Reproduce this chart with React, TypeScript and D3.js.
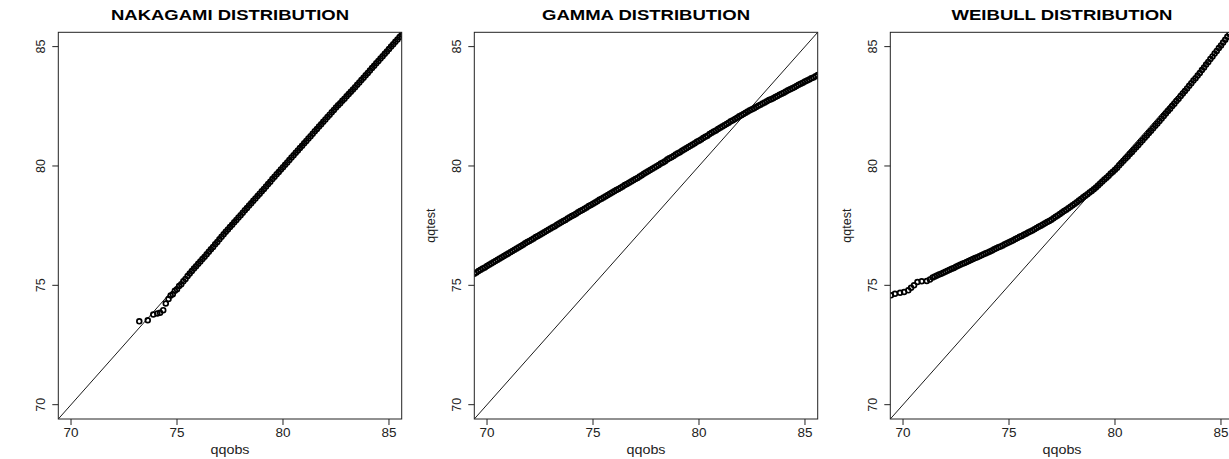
import React from "react";
import * as d3 from "d3";

// ---------- DATA ----------
const titles = ["NAKAGAMI DISTRIBUTION", "GAMMA DISTRIBUTION", "WEIBULL DISTRIBUTION"];
const titleWidths = [238, 208, 221];
const tickValues = [70, 75, 80, 85];
const xLabel = "qqobs";
const yLabel = "qqtest";

// Nakagami
const nakagamiObs = [
  73.22, 73.62, 73.88, 74.07, 74.2, 74.35, 74.47,
  74.6, 74.7, 74.8, 74.9, 75.0, 75.1, 75.2, 75.3, 75.4, 75.5, 75.6, 75.7, 75.8, 75.9,
  76.0, 76.1, 76.2, 76.3, 76.4, 76.5, 76.6, 76.7, 76.8, 76.9,
  77.0, 77.1, 77.2, 77.3, 77.4, 77.5, 77.6, 77.7, 77.8, 77.9,
  78.0, 78.1, 78.2, 78.3, 78.4, 78.5, 78.6, 78.7, 78.8, 78.9,
  79.0, 79.1, 79.2, 79.3, 79.4, 79.5, 79.6, 79.7, 79.8, 79.9,
  80.0, 80.1, 80.2, 80.3, 80.4, 80.5, 80.6, 80.7, 80.8, 80.9,
  81.0, 81.1, 81.2, 81.3, 81.4, 81.5, 81.6, 81.7, 81.8, 81.9,
  82.0, 82.1, 82.2, 82.3, 82.4, 82.5, 82.6, 82.7, 82.8, 82.9,
  83.0, 83.1, 83.2, 83.3, 83.4, 83.5, 83.6, 83.7, 83.8, 83.9,
  84.0, 84.1, 84.2, 84.3, 84.4, 84.5, 84.6, 84.7, 84.8, 84.9,
  85.0, 85.1, 85.2, 85.3, 85.4, 85.5, 85.6, 85.7,
];
const nakagamiTest = [
  73.49, 73.54, 73.78, 73.82, 73.85, 73.96, 74.24,
  74.43, 74.57, 74.63, 74.77, 74.84, 74.97, 75.05, 75.17, 75.27, 75.39, 75.5, 75.6, 75.7, 75.8,
  75.9, 76.0, 76.1, 76.2, 76.3, 76.41, 76.51, 76.61, 76.72, 76.82,
  76.93, 77.03, 77.14, 77.24, 77.34, 77.44, 77.54, 77.64, 77.74, 77.84,
  77.94, 78.04, 78.14, 78.24, 78.34, 78.44, 78.54, 78.64, 78.74, 78.84,
  78.94, 79.04, 79.14, 79.24, 79.34, 79.45, 79.55, 79.65, 79.75, 79.85,
  79.95, 80.05, 80.15, 80.25, 80.35, 80.45, 80.55, 80.65, 80.75, 80.85,
  80.95, 81.05, 81.15, 81.25, 81.35, 81.45, 81.55, 81.65, 81.75, 81.85,
  81.95, 82.05, 82.15, 82.25, 82.35, 82.45, 82.54, 82.63, 82.73, 82.82,
  82.92, 83.01, 83.11, 83.2, 83.3, 83.4, 83.5, 83.6, 83.7, 83.8,
  83.9, 84.0, 84.1, 84.2, 84.3, 84.4, 84.5, 84.6, 84.7, 84.8,
  84.9, 85.0, 85.1, 85.2, 85.3, 85.4, 85.5, 85.6,
];

// Gamma
const gammaObs = [
  69.4, 69.5, 69.6, 69.7, 69.8, 69.9,
  70.0, 70.1, 70.2, 70.3, 70.4, 70.5, 70.6, 70.7, 70.8, 70.9,
  71.0, 71.1, 71.2, 71.3, 71.4, 71.5, 71.6, 71.7, 71.8, 71.9,
  72.0, 72.1, 72.2, 72.3, 72.4, 72.5, 72.6, 72.7, 72.8, 72.9,
  73.0, 73.1, 73.2, 73.3, 73.4, 73.5, 73.6, 73.7, 73.8, 73.9,
  74.0, 74.1, 74.2, 74.3, 74.4, 74.5, 74.6, 74.7, 74.8, 74.9,
  75.0, 75.1, 75.2, 75.3, 75.4, 75.5, 75.6, 75.7, 75.8, 75.9,
  76.0, 76.1, 76.2, 76.3, 76.4, 76.5, 76.6, 76.7, 76.8, 76.9,
  77.0, 77.1, 77.2, 77.3, 77.4, 77.5, 77.6, 77.7, 77.8, 77.9,
  78.0, 78.1, 78.2, 78.3, 78.4, 78.5, 78.6, 78.7, 78.8, 78.9,
  79.0, 79.1, 79.2, 79.3, 79.4, 79.5, 79.6, 79.7, 79.8, 79.9,
  80.0, 80.1, 80.2, 80.3, 80.4, 80.5, 80.6, 80.7, 80.8, 80.9,
  81.0, 81.1, 81.2, 81.3, 81.4, 81.5, 81.6, 81.7, 81.8, 81.9,
  82.0, 82.1, 82.2, 82.3, 82.4, 82.5, 82.6, 82.7, 82.8, 82.9,
  83.0, 83.1, 83.2, 83.3, 83.4, 83.5, 83.6, 83.7, 83.8, 83.9,
  84.0, 84.1, 84.2, 84.3, 84.4, 84.5, 84.6, 84.7, 84.8, 84.9,
  85.0, 85.1, 85.2, 85.3, 85.4, 85.5, 85.6,
];
const gammaTest = [
  75.49, 75.54, 75.6, 75.65, 75.7, 75.75,
  75.81, 75.86, 75.91, 75.97, 76.02, 76.07, 76.12, 76.18, 76.23, 76.28,
  76.33, 76.39, 76.44, 76.49, 76.54, 76.6, 76.65, 76.7, 76.76, 76.81,
  76.86, 76.91, 76.96, 77.02, 77.07, 77.12, 77.17, 77.22, 77.28, 77.33,
  77.38, 77.43, 77.48, 77.54, 77.59, 77.64, 77.69, 77.74, 77.8, 77.85,
  77.9, 77.95, 78.0, 78.06, 78.11, 78.16, 78.21, 78.26, 78.32, 78.37,
  78.42, 78.47, 78.52, 78.58, 78.63, 78.68, 78.73, 78.78, 78.84, 78.89,
  78.94, 78.99, 79.04, 79.09, 79.14, 79.2, 79.25, 79.3, 79.35, 79.4,
  79.45, 79.5, 79.56, 79.61, 79.67, 79.73, 79.78, 79.83, 79.88, 79.94,
  79.99, 80.04, 80.1, 80.15, 80.2, 80.27, 80.32, 80.37, 80.42, 80.48,
  80.53, 80.58, 80.64, 80.69, 80.74, 80.8, 80.85, 80.9, 80.95, 81.01,
  81.06, 81.11, 81.17, 81.22, 81.27, 81.34, 81.39, 81.44, 81.49, 81.55,
  81.6, 81.65, 81.71, 81.76, 81.81, 81.87, 81.92, 81.97, 82.02, 82.08,
  82.13, 82.18, 82.23, 82.28, 82.33, 82.38, 82.42, 82.47, 82.52, 82.57,
  82.62, 82.66, 82.71, 82.76, 82.8, 82.84, 82.89, 82.93, 82.98, 83.03,
  83.07, 83.12, 83.17, 83.21, 83.26, 83.3, 83.35, 83.4, 83.44, 83.49,
  83.54, 83.58, 83.62, 83.67, 83.71, 83.76, 83.81,
];

// Weibull
const weibullObs = [
  69.43, 69.62, 69.86, 70.05, 70.25, 70.38, 70.52, 70.68, 70.88, 71.12, 71.27,
  71.4, 71.5, 71.6, 71.7, 71.8, 71.9,
  72.0, 72.1, 72.2, 72.3, 72.4, 72.5, 72.6, 72.7, 72.8, 72.9,
  73.0, 73.1, 73.2, 73.3, 73.4, 73.5, 73.6, 73.7, 73.8, 73.9,
  74.0, 74.1, 74.2, 74.3, 74.4, 74.5, 74.6, 74.7, 74.8, 74.9,
  75.0, 75.1, 75.2, 75.3, 75.4, 75.5, 75.6, 75.7, 75.8, 75.9,
  76.0, 76.1, 76.2, 76.3, 76.4, 76.5, 76.6, 76.7, 76.8, 76.9,
  77.0, 77.1, 77.2, 77.3, 77.4, 77.5, 77.6, 77.7, 77.8, 77.9,
  78.0, 78.1, 78.2, 78.3, 78.4, 78.5, 78.6, 78.7, 78.8, 78.9,
  79.0, 79.1, 79.2, 79.3, 79.4, 79.5, 79.6, 79.7, 79.8, 79.9,
  80.0, 80.1, 80.2, 80.3, 80.4, 80.5, 80.6, 80.7, 80.8, 80.9,
  81.0, 81.1, 81.2, 81.3, 81.4, 81.5, 81.6, 81.7, 81.8, 81.9,
  82.0, 82.1, 82.2, 82.3, 82.4, 82.5, 82.6, 82.7, 82.8, 82.9,
  83.0, 83.1, 83.2, 83.3, 83.4, 83.5, 83.6, 83.7, 83.8, 83.9,
  84.0, 84.1, 84.2, 84.3, 84.4, 84.5, 84.6, 84.7, 84.8, 84.9,
  85.0, 85.1, 85.2, 85.3, 85.4, 85.5, 85.6,
];
const weibullTest = [
  74.58, 74.65, 74.69, 74.72, 74.79, 74.9, 75.0, 75.14, 75.17, 75.18, 75.24,
  75.33, 75.37, 75.41, 75.45, 75.49, 75.53,
  75.57, 75.61, 75.65, 75.69, 75.73, 75.78, 75.82, 75.86, 75.9, 75.94,
  75.98, 76.02, 76.06, 76.1, 76.14, 76.18, 76.22, 76.26, 76.3, 76.34,
  76.38, 76.42, 76.46, 76.51, 76.55, 76.59, 76.63, 76.67, 76.72, 76.76,
  76.8, 76.85, 76.89, 76.94, 76.98, 77.03, 77.07, 77.12, 77.16, 77.21,
  77.25, 77.3, 77.35, 77.4, 77.45, 77.5, 77.55, 77.6, 77.65, 77.7,
  77.75, 77.81, 77.87, 77.93, 77.99, 78.05, 78.11, 78.17, 78.23, 78.29,
  78.35, 78.42, 78.48, 78.55, 78.62, 78.69, 78.75, 78.82, 78.89, 78.95,
  79.02, 79.1, 79.18, 79.27, 79.35, 79.43, 79.51, 79.59, 79.68, 79.76,
  79.84, 79.93, 80.03, 80.12, 80.22, 80.31, 80.4, 80.5, 80.59, 80.69,
  80.78, 80.88, 80.98, 81.08, 81.18, 81.28, 81.38, 81.48, 81.58, 81.68,
  81.78, 81.88, 81.99, 82.09, 82.2, 82.3, 82.4, 82.51, 82.61, 82.72,
  82.82, 82.93, 83.04, 83.14, 83.25, 83.36, 83.47, 83.58, 83.68, 83.79,
  83.9, 84.02, 84.13, 84.25, 84.36, 84.48, 84.59, 84.71, 84.82, 84.94,
  85.05, 85.17, 85.29, 85.41, 85.53, 85.66, 85.78,
];

const panelObs = [nakagamiObs, gammaObs, weibullObs];
const panelTest = [nakagamiTest, gammaTest, weibullTest];
const showYLabel = [false, true, true];

// ---------- LAYOUT ----------
const W = 1229;
const H = 459;
const PANEL_W = 416;
const BOX_L = 58.3;
const BOX_R = 401.7;
const BOX_T = 32.3;
const BOX_B = 419;
const DOMAIN: [number, number] = [69.4, 85.6];
const FONT = "'Liberation Sans', Arial, Helvetica, sans-serif";

function Panel({ i }: { i: number }) {
  const off = i * PANEL_W;
  const x = d3.scaleLinear().domain(DOMAIN).range([off + BOX_L, off + BOX_R]);
  const y = d3.scaleLinear().domain(DOMAIN).range([BOX_B, BOX_T]);
  const obs = panelObs[i];
  const test = panelTest[i];
  const clipId = `clip-${i}`;
  const cx = (x.range()[0] + x.range()[1]) / 2;
  const cy = (BOX_T + BOX_B) / 2;
  const left = x.range()[0];
  return (
    <g>
      <defs>
        <clipPath id={clipId}>
          <rect x={left} y={BOX_T} width={x.range()[1] - left} height={BOX_B - BOX_T} />
        </clipPath>
      </defs>
      <text
        x={cx}
        y={20}
        textAnchor="middle"
        fontFamily={FONT}
        fontWeight="bold"
        fontSize={15.5}
        textLength={titleWidths[i]}
        lengthAdjust="spacingAndGlyphs"
        fill="#000"
      >
        {titles[i]}
      </text>
      <g clipPath={`url(#${clipId})`}>
        <line
          x1={x(DOMAIN[0])}
          y1={y(DOMAIN[0])}
          x2={x(DOMAIN[1])}
          y2={y(DOMAIN[1])}
          stroke="#000"
          strokeWidth={0.9}
        />
        {obs.map((v, k) => (
          <circle
            key={k}
            cx={x(v)}
            cy={y(test[k])}
            r={2.4}
            fill="none"
            stroke="#000"
            strokeWidth={1.7}
          />
        ))}
      </g>
      <rect
        x={left}
        y={BOX_T}
        width={x.range()[1] - left}
        height={BOX_B - BOX_T}
        fill="none"
        stroke="#222"
        strokeWidth={1}
      />
      {tickValues.map((t) => (
        <g key={`xt${t}`}>
          <line x1={x(t)} x2={x(t)} y1={BOX_B} y2={BOX_B + 6} stroke="#222" strokeWidth={1} />
          <text
            x={x(t)}
            y={437}
            textAnchor="middle"
            fontFamily={FONT}
            fontSize={12.5}
            textLength={15}
            lengthAdjust="spacingAndGlyphs"
            fill="#222"
          >
            {t}
          </text>
        </g>
      ))}
      {tickValues.map((t) => (
        <g key={`yt${t}`}>
          <line x1={left - 6} x2={left} y1={y(t)} y2={y(t)} stroke="#222" strokeWidth={1} />
          <text
            transform={`translate(${left - 13},${y(t)}) rotate(-90)`}
            textAnchor="middle"
            fontFamily={FONT}
            fontSize={12.5}
            fill="#222"
          >
            {t}
          </text>
        </g>
      ))}
      <text
        x={cx}
        y={453.5}
        textAnchor="middle"
        fontFamily={FONT}
        fontSize={12.5}
        textLength={39}
        lengthAdjust="spacingAndGlyphs"
        fill="#222"
      >
        {xLabel}
      </text>
      {showYLabel[i] && (
        <text
          transform={`translate(${left - 39},${cy}) rotate(-90)`}
          textAnchor="middle"
          fontFamily={FONT}
          fontSize={12.5}
          fill="#222"
        >
          {yLabel}
        </text>
      )}
    </g>
  );
}

export default function App() {
  return (
    <svg
      width={W}
      height={H}
      viewBox={`0 0 ${W} ${H}`}
      style={{ position: "absolute", left: 0, top: 0, background: "#fff" }}
    >
      <rect x={0} y={0} width={W} height={H} fill="#fff" />
      {[0, 1, 2].map((i) => (
        <Panel key={i} i={i} />
      ))}
    </svg>
  );
}
